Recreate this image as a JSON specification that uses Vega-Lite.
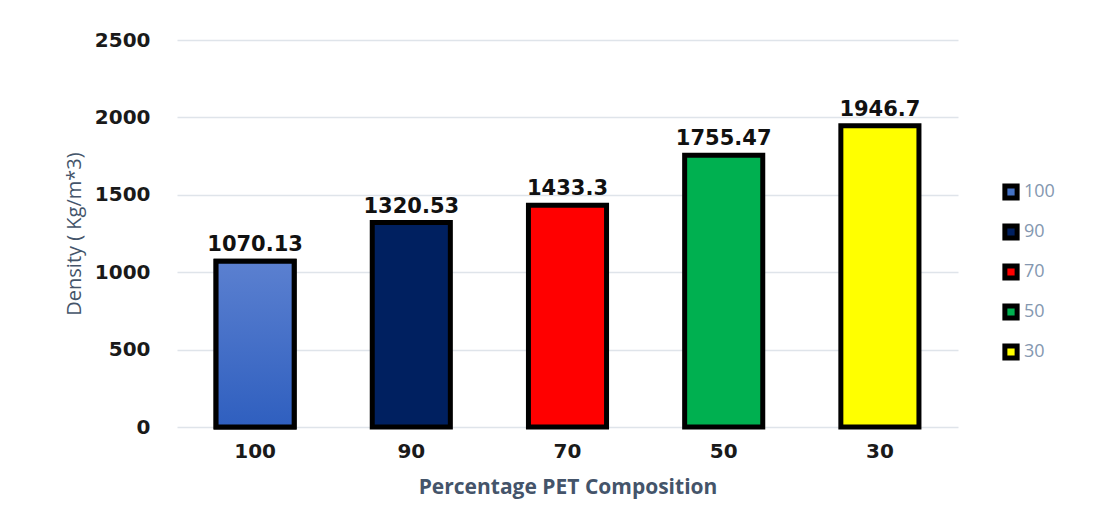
{
  "$schema": "https://vega.github.io/schema/vega-lite/v6.json",
  "autosize": {"type": "none"},
  "width": 781,
  "height": 387,
  "padding": {"left": 177, "top": 40, "right": 135, "bottom": 97},
  "background": "white",
  "config": {
    "view": {"stroke": null},
    "font": "DejaVu Sans"
  },
  "data": {
    "values": [
      {"pet": "100", "density": 1070.13},
      {"pet": "90", "density": 1320.53},
      {"pet": "70", "density": 1433.3},
      {"pet": "50", "density": 1755.47},
      {"pet": "30", "density": 1946.7}
    ]
  },
  "encoding": {
    "x": {
      "field": "pet",
      "type": "nominal",
      "sort": ["100", "90", "70", "50", "30"],
      "scale": {"paddingInner": 0.5, "paddingOuter": 0.25},
      "axis": {
        "title": "Percentage PET Composition",
        "titleFont": "Open Sans",
        "titleFontSize": 21,
        "titleFontWeight": "bold",
        "titleColor": "#44546a",
        "titlePadding": 15,
        "labelAngle": 0,
        "labelFont": "DejaVu Sans",
        "labelFontSize": 20,
        "labelFontWeight": "bold",
        "labelColor": "#1a1a1a",
        "labelPadding": 14,
        "ticks": false,
        "domain": false
      }
    },
    "y": {
      "field": "density",
      "type": "quantitative",
      "scale": {"domain": [0, 2500]},
      "axis": {
        "title": "Density ( Kg/m*3)",
        "titleFont": "Open Sans",
        "titleFontSize": 20,
        "titleFontWeight": "normal",
        "titleColor": "#44546a",
        "titlePadding": 10,
        "values": [0, 500, 1000, 1500, 2000, 2500],
        "format": "d",
        "labelFont": "DejaVu Sans",
        "labelFontSize": 20,
        "labelFontWeight": "bold",
        "labelColor": "#1a1a1a",
        "labelPadding": 27,
        "ticks": false,
        "domain": false,
        "gridColor": "#dfe4ea",
        "gridWidth": 1.5
      }
    }
  },
  "layer": [
    {
      "mark": {"type": "bar", "stroke": "black", "strokeWidth": 5, "strokeJoin": "miter"},
      "encoding": {
        "color": {
          "field": "pet",
          "type": "nominal",
          "sort": ["100", "90", "70", "50", "30"],
          "scale": {
            "domain": ["100", "90", "70", "50", "30"],
            "range": ["#4472c4", "#002060", "#ff0000", "#00b050", "#ffff00"]
          },
          "legend": {
            "title": null,
            "orient": "none",
            "legendX": 825,
            "legendY": 143,
            "symbolType": "square",
            "symbolSize": 150,
            "symbolStrokeColor": "black",
            "symbolStrokeWidth": 5,
            "symbolOpacity": 1,
            "labelFont": "Open Sans",
            "labelFontSize": 18,
            "labelColor": "#8497b0",
            "labelOffset": 4,
            "rowPadding": 6
          }
        }
      }
    },
    {
      "transform": [{"filter": "datum.pet === '100'"}],
      "mark": {
        "type": "bar",
        "stroke": "black",
        "strokeWidth": 5,
        "strokeJoin": "miter",
        "fill": {
          "gradient": "linear",
          "x1": 0, "y1": 0, "x2": 0, "y2": 1,
          "stops": [
            {"offset": 0, "color": "#5b80d0"},
            {"offset": 1, "color": "#2f5fbf"}
          ]
        }
      }
    },
    {
      "mark": {
        "type": "text",
        "baseline": "bottom",
        "dy": -6,
        "font": "DejaVu Sans",
        "fontSize": 21,
        "fontWeight": "bold",
        "color": "#111111"
      },
      "encoding": {
        "text": {"field": "density", "type": "quantitative"}
      }
    }
  ]
}
